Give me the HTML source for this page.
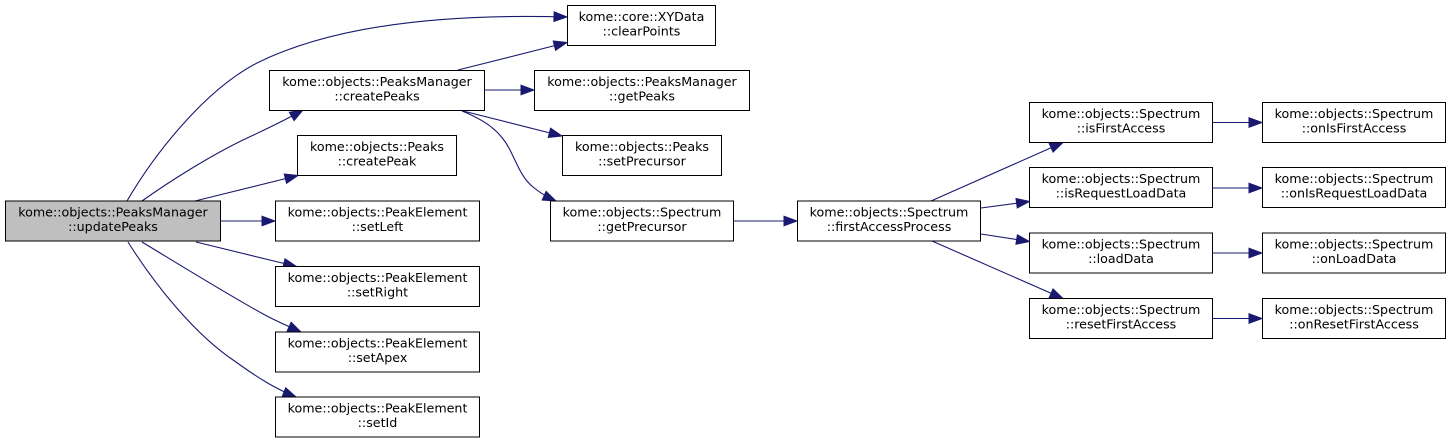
<!DOCTYPE html>
<html><head><meta charset="utf-8"><style>
html,body{margin:0;padding:0;background:#fff;}
svg{display:block;}
text{font-family:"DejaVu Sans","Liberation Sans",sans-serif;font-size:12.67px;fill:#000;text-anchor:middle;}
rect{fill:#fff;stroke:#000;stroke-width:1;}
path.e{fill:none;stroke:#191970;stroke-width:1.1;}
</style></head><body>
<svg width="1451" height="444" viewBox="0 0 1451 444" xmlns="http://www.w3.org/2000/svg">
<defs>
<marker id="a" markerUnits="userSpaceOnUse" markerWidth="15" markerHeight="12" refX="13" refY="5" orient="auto" overflow="visible">
<path d="M0,0.2 L13,5 L0,9.8 z" fill="#191970" stroke="#191970" stroke-width="1"/>
</marker>
</defs>

<!-- edges -->
<path class="e" marker-end="url(#a)" d="M127,201 C155,153 205,90 257,63 C340,22 460,14 567,17"/>
<path class="e" marker-end="url(#a)" d="M142,201 C170,181 210,156 243,140 C262,131 282,122 303,110"/>
<path class="e" marker-end="url(#a)" d="M195,201 L298,175.5"/>
<path class="e" marker-end="url(#a)" d="M220.5,221 L275,221"/>
<path class="e" marker-end="url(#a)" d="M196,242 L296.5,266.5"/>
<path class="e" marker-end="url(#a)" d="M142,242 C180,265 230,296 265,315 C278,322 290,327 301,332"/>
<path class="e" marker-end="url(#a)" d="M128,242 C155,285 195,335 236,362 C258,378 276,389 296,397"/>

<path class="e" marker-end="url(#a)" d="M458,70 L567,42.5"/>
<path class="e" marker-end="url(#a)" d="M484.5,90 L534,90"/>
<path class="e" marker-end="url(#a)" d="M463,111 L562,136"/>
<path class="e" marker-end="url(#a)" d="M462,111 C484,120 500,130 510,150 C518,166 522,178 533,187 C540,193 547,197 556,201"/>

<path class="e" marker-end="url(#a)" d="M733.5,221 L797,221"/>
<path class="e" marker-end="url(#a)" d="M931,201 L1063,142.5"/>
<path class="e" marker-end="url(#a)" d="M981,208 L1029.5,201.5"/>
<path class="e" marker-end="url(#a)" d="M981,234 L1029.5,241.5"/>
<path class="e" marker-end="url(#a)" d="M932,241 L1063,298.5"/>

<path class="e" marker-end="url(#a)" d="M1213,122.5 L1262,122.5"/>
<path class="e" marker-end="url(#a)" d="M1213,188 L1262,188"/>
<path class="e" marker-end="url(#a)" d="M1213,253 L1262,253"/>
<path class="e" marker-end="url(#a)" d="M1213,318.5 L1262,318.5"/>

<!-- nodes -->
<rect x="5.5" y="201" width="215" height="40" style="fill:#bfbfbf"/>
<text x="113" y="216.5">kome::objects::PeaksManager</text>
<text x="113" y="231">::updatePeaks</text>

<rect x="269.5" y="70.5" width="215" height="40"/>
<text x="377" y="86">kome::objects::PeaksManager</text>
<text x="377" y="100.5">::createPeaks</text>

<rect x="297.5" y="135.5" width="159" height="40"/>
<text x="377" y="151">kome::objects::Peaks</text>
<text x="377" y="165.5">::createPeak</text>

<rect x="275.5" y="201" width="204" height="40"/>
<text x="377.5" y="216.5">kome::objects::PeakElement</text>
<text x="377.5" y="231">::setLeft</text>

<rect x="275.5" y="266.5" width="204" height="40"/>
<text x="377.5" y="282">kome::objects::PeakElement</text>
<text x="377.5" y="296.5">::setRight</text>

<rect x="275.5" y="332" width="204" height="40"/>
<text x="377.5" y="347.5">kome::objects::PeakElement</text>
<text x="377.5" y="362">::setApex</text>

<rect x="275.5" y="397" width="204" height="40"/>
<text x="377.5" y="412.5">kome::objects::PeakElement</text>
<text x="377.5" y="427">::setId</text>

<rect x="567.5" y="5.5" width="148" height="40"/>
<text x="641.5" y="21">kome::core::XYData</text>
<text x="641.5" y="35.5">::clearPoints</text>

<rect x="534.5" y="70.5" width="215" height="40"/>
<text x="642" y="86">kome::objects::PeaksManager</text>
<text x="642" y="100.5">::getPeaks</text>

<rect x="562.5" y="135.5" width="159" height="40"/>
<text x="642" y="151">kome::objects::Peaks</text>
<text x="642" y="165.5">::setPrecursor</text>

<rect x="550.5" y="201" width="183" height="40"/>
<text x="642" y="216.5">kome::objects::Spectrum</text>
<text x="642" y="231">::getPrecursor</text>

<rect x="797.5" y="201" width="183" height="40"/>
<text x="889" y="216.5">kome::objects::Spectrum</text>
<text x="889" y="231">::firstAccessProcess</text>

<rect x="1029.5" y="102.5" width="183" height="40"/>
<text x="1121" y="118">kome::objects::Spectrum</text>
<text x="1121" y="132.5">::isFirstAccess</text>

<rect x="1029.5" y="167.5" width="183" height="40"/>
<text x="1121" y="183">kome::objects::Spectrum</text>
<text x="1121" y="197.5">::isRequestLoadData</text>

<rect x="1029.5" y="233" width="183" height="40"/>
<text x="1121" y="248.5">kome::objects::Spectrum</text>
<text x="1121" y="263">::loadData</text>

<rect x="1029.5" y="298.5" width="183" height="40"/>
<text x="1121" y="314">kome::objects::Spectrum</text>
<text x="1121" y="328.5">::resetFirstAccess</text>

<rect x="1262.5" y="102.5" width="183" height="40"/>
<text x="1354" y="118">kome::objects::Spectrum</text>
<text x="1354" y="132.5">::onIsFirstAccess</text>

<rect x="1262.5" y="167.5" width="183" height="40"/>
<text x="1354" y="183">kome::objects::Spectrum</text>
<text x="1354" y="197.5">::onIsRequestLoadData</text>

<rect x="1262.5" y="233" width="183" height="40"/>
<text x="1354" y="248.5">kome::objects::Spectrum</text>
<text x="1354" y="263">::onLoadData</text>

<rect x="1262.5" y="298.5" width="183" height="40"/>
<text x="1354" y="314">kome::objects::Spectrum</text>
<text x="1354" y="328.5">::onResetFirstAccess</text>
</svg>
</body></html>
